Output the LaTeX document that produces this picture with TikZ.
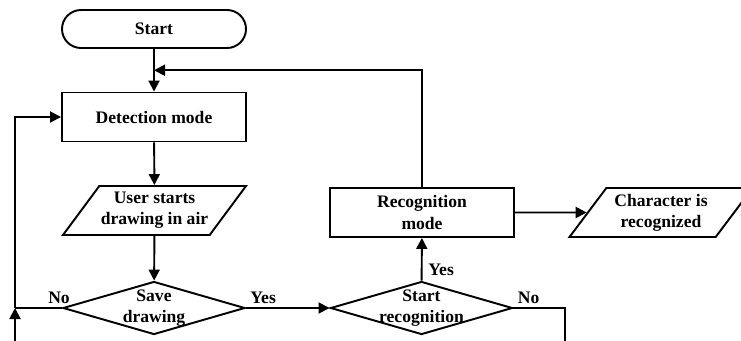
\documentclass[tikz,border=0pt]{standalone}
\usepackage{fontspec}
\setmainfont{Liberation Serif}
\usetikzlibrary{shapes.geometric, arrows.meta, calc}

\begin{document}
\begin{tikzpicture}[line width=1.1pt, >={Triangle[length=2.2mm,width=2.2mm]},
  every node/.style={font=\bfseries, align=center},
  term/.style={draw, rectangle, rounded corners=0.38cm, minimum width=3.68cm, minimum height=0.76cm},
  proc/.style={draw, rectangle, minimum width=3.68cm, minimum height=0.98cm},
  io/.style={draw, trapezium, trapezium left angle=53, trapezium right angle=127,
    trapezium stretches body, inner xsep=0pt, minimum width=3.66cm, minimum height=0.98cm},
  decision/.style={draw, diamond, minimum width=3.64cm, minimum height=1.06cm, inner sep=0pt},
  lbl/.style={inner sep=2pt}]
\clip (0,0) rectangle (14.82,6.8);
% main column
\node[term] (start) at (3.08, 6.22) {Start};
\node[proc] (detect) at (3.08, 4.46) {Detection mode};
\node[io] (user) at (3.09, 2.59) {User starts\\drawing in air};
\node[decision] (save) at (3.08, 0.64) {};
\node (savetxt) at (save) {Save\\drawing};
% right column
\node[decision] (startrec) at (8.43, 0.64) {};
\node (startrectxt) at (startrec) {Start\\recognition};
\node[proc] (recog) at (8.44, 2.55) {Recognition\\mode};
\node[io] (chara) at (13.22, 2.55) {Character is\\recognized};
% loose ends
\coordinate (join) at ($(start.south)!0.5!(detect.north)$);
\coordinate (leftturn) at (0.30, 0.64);
\coordinate (leftend) at (0.30, -0.1);
\coordinate (rightend) at (11.30, -0.1);
% arrows
\draw[->] (start) -- (detect);
\draw[->] (detect) -- (user);
\draw[->] (user) -- (save);
\draw[->] (save) -- (startrec);
\draw[->] (startrec) -- (recog);
\draw[->] (recog) -- (chara);
\draw[->] (recog.north) |- (join);
\draw (save.west) -- (leftturn);
\draw[->] (leftend) -- (leftturn);
\draw[->] (leftturn) |- (detect.west);
\draw (startrec.east) -| (rightend);
% labels
\node[lbl, anchor=south, xshift=-0.06cm] (saveno) at (save.west) {No};
\node[lbl, anchor=south west] (saveyes) at (save.east) {Yes};
\node[lbl, anchor=south west, xshift=0.05cm] (recyes) at (startrec.north) {Yes};
\node[lbl, anchor=south west] (recno) at (startrec.east) {No};
\end{tikzpicture}
\end{document}
